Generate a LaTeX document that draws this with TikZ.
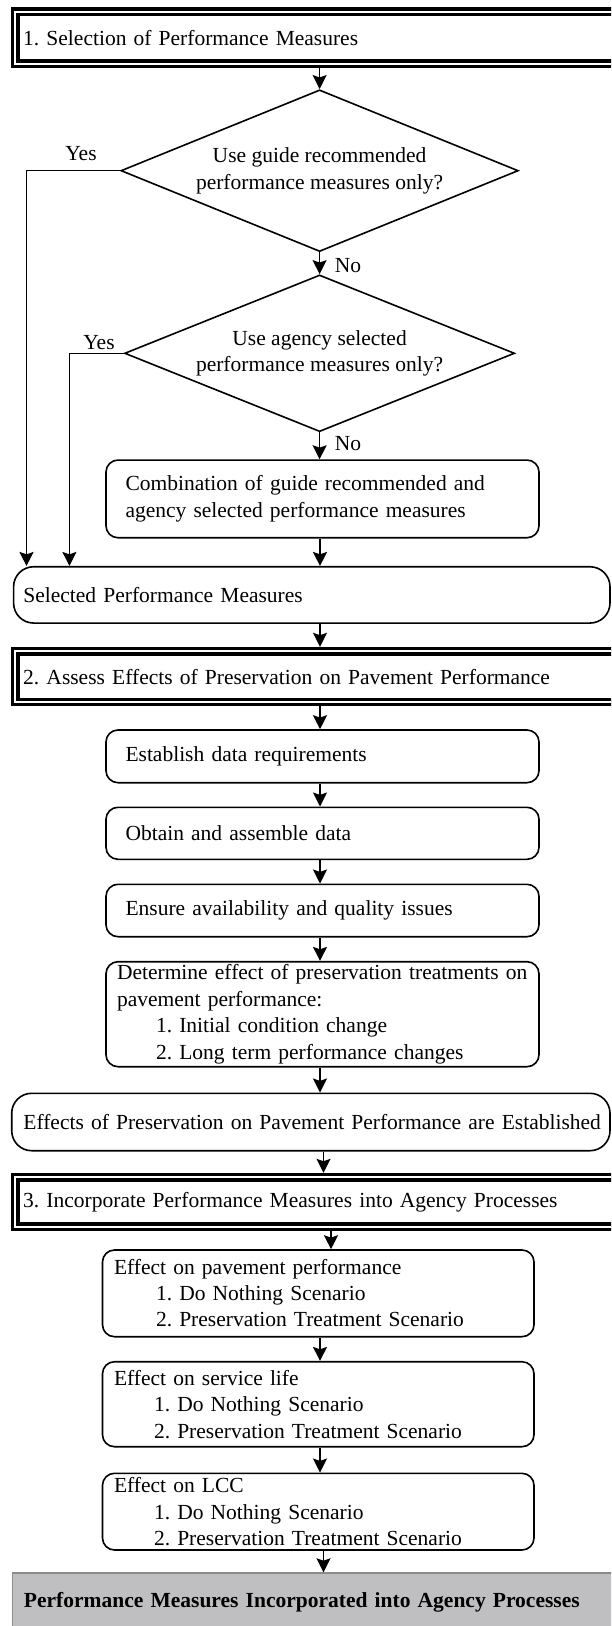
\documentclass[tikz,border=0pt]{standalone}
\usepackage{fontspec}
\setmainfont{Liberation Serif}
\usetikzlibrary{shapes.geometric,arrows.meta}
\definecolor{greyfill}{RGB}{191,191,193}
\frenchspacing
\begin{document}
\begin{tikzpicture}[x=0.5pt,y=-0.5pt,
  every node/.style={font=\fontsize{10.75}{13.3}\selectfont},
  arr/.style={-{Stealth[length=7pt,width=7pt,inset=1.2pt]},line width=0.75pt},
  hdr/.style={draw,line width=1.6pt,double=white,double distance=1.2pt,anchor=west,outer sep=2.2pt,
    minimum width=312.5pt,inner xsep=4pt,text width=304.5pt,align=left},
  dia/.style={draw,shape=diamond,line width=0.8pt,inner sep=0pt,align=center},
  rbox/.style={draw,rounded corners=6pt,line width=0.8pt,align=left,inner ysep=0.5pt},
  small/.style={rbox,minimum width=216.5pt,inner xsep=9.75pt,text width=197pt},
  effbox/.style={rbox,minimum width=215.75pt,inner xsep=5.75pt,text width=204.25pt},
  wide/.style={draw,rounded corners=10pt,line width=0.8pt,align=left,inner ysep=0.5pt},
  lbl/.style={inner sep=0pt}]
\clip (0,0) rectangle (611,1626);
\fill[white] (0,0) rectangle (611,1626);

% axes for vertical connectors
\coordinate (ax) at (320,0);
\coordinate (axb) at (323.5,0);
\coordinate (axc) at (331,0);
\coordinate (yx1) at (26.5,0);
\coordinate (yx2) at (69.4,0);

% headers
\node[hdr,minimum height=26pt] (h1) at (10.8,37.9) {\mbox{1. Selection of Performance Measures}};
\node[hdr,minimum height=25.4pt] (h2) at (10.8,676.6) {\mbox{2. Assess Effects of Preservation on Pavement Performance}};
\node[hdr,minimum height=24.75pt] (h3) at (10.8,1202) {\mbox{3. Incorporate Performance Measures into Agency Processes}};

% decisions
\node[dia,minimum width=198.7pt,minimum height=80.85pt,aspect=2.46] (d1) at (319.6,170.7)
  {Use guide recommended\\performance measures only?};
\node[dia,minimum width=195pt,minimum height=78.35pt,aspect=2.49] (d2) at (319.6,353.3)
  {Use agency selected\\performance measures only?};

\node[small,minimum height=38.85pt] (comb) at (322.5,498.9)
  {\fontsize{10.75}{14.3}\selectfont Combination of guide recommended and\\agency selected performance measures};

\node[wide,minimum width=298.2pt,minimum height=28.15pt,inner xsep=4.9pt,text width=288.4pt] (sel) at (311.8,594.9)
  {\mbox{Selected Performance Measures}};

% section 2
\node[small,minimum height=26.35pt] (est) at (322.5,756.35) {\mbox{Establish data requirements}};
\node[small,minimum height=26pt] (obt) at (322.5,833.3) {\mbox{Obtain and assemble data}};
\node[small,minimum height=26.2pt] (ens) at (322.5,910.5) {\mbox{Ensure availability and quality issues}};
\node[rbox,minimum width=216.5pt,inner xsep=5.5pt,text width=205.5pt,minimum height=52.5pt] (det) at (322.5,1014.2)
  {\mbox{Determine effect of preservation treatments on}\\pavement performance:\\
   \hspace*{19.5pt}1. Initial condition change\\
   \hspace*{19.5pt}2. Long term performance changes};

\node[wide,minimum width=299.15pt,minimum height=28.7pt,inner xsep=5.85pt,text width=287.45pt] (eff) at (310.85,1122)
  {\mbox{Effects of Preservation on Pavement Performance are Established}};

% section 3
\node[effbox,minimum height=43.35pt] (pav) at (318.25,1293.35)
  {\fontsize{10.75}{12.8}\selectfont Effect on pavement performance\\
   \hspace*{21pt}1. Do Nothing Scenario\\
   \hspace*{21pt}2. Preservation Treatment Scenario};
\node[effbox,minimum height=42.5pt] (svc) at (318.25,1404.2)
  {Effect on service life\\
   \hspace*{20pt}1. Do Nothing Scenario\\
   \hspace*{20pt}2. Preservation Treatment Scenario};
\node[effbox,minimum height=38.35pt] (lcc) at (318.25,1511.65)
  {Effect on LCC\\
   \hspace*{20pt}1. Do Nothing Scenario\\
   \hspace*{20pt}2. Preservation Treatment Scenario};

\node[draw=black!45,line width=0.6pt,fill=greyfill,anchor=north west,minimum width=320pt,minimum height=29.4pt,
  inner xsep=5.85pt,text width=308.3pt,align=left] (grey) at (11.7,1572.3)
  {\mbox{\bfseries Performance Measures Incorporated into Agency Processes}};

% labels
\node[lbl] (yes1) at (81,154) {Yes};
\node[lbl] (yes2) at (99,342.7) {Yes};
\node[lbl] (no1) at (348,266) {No};
\node[lbl] (no2) at (348,444) {No};

% connectors
\draw[arr] (h1.south -| d1.north) -- (d1.north);
\draw[arr] (d1.south) -- (d2.north);
\draw[arr] (d2.south) -- (d2.south |- comb.north);
\draw[arr] (comb.south -| ax) -- (sel.north -| ax);
\draw[arr] (d1.west) -- (d1.west -| yx1) -- (sel.north -| yx1);
\draw[arr] (d2.west) -- (d2.west -| yx2) -- (sel.north -| yx2);
\draw[arr] (sel.south -| ax) -- (h2.north -| ax);
\draw[arr] (h2.south -| ax) -- (est.north -| ax);
\draw[arr] (est.south -| ax) -- (obt.north -| ax);
\draw[arr] (obt.south -| ax) -- (ens.north -| ax);
\draw[arr] (ens.south -| ax) -- (det.north -| ax);
\draw[arr] (det.south -| ax) -- (eff.north -| ax);
\draw[arr] (eff.south -| axb) -- (h3.north -| axb);
\draw[arr] (h3.south -| axc) -- (pav.north -| axc);
\draw[arr] (pav.south -| ax) -- (svc.north -| ax);
\draw[arr] (svc.south -| ax) -- (lcc.north -| ax);
\draw[arr] (lcc.south -| axb) -- (grey.north -| axb);
\end{tikzpicture}
\end{document}
